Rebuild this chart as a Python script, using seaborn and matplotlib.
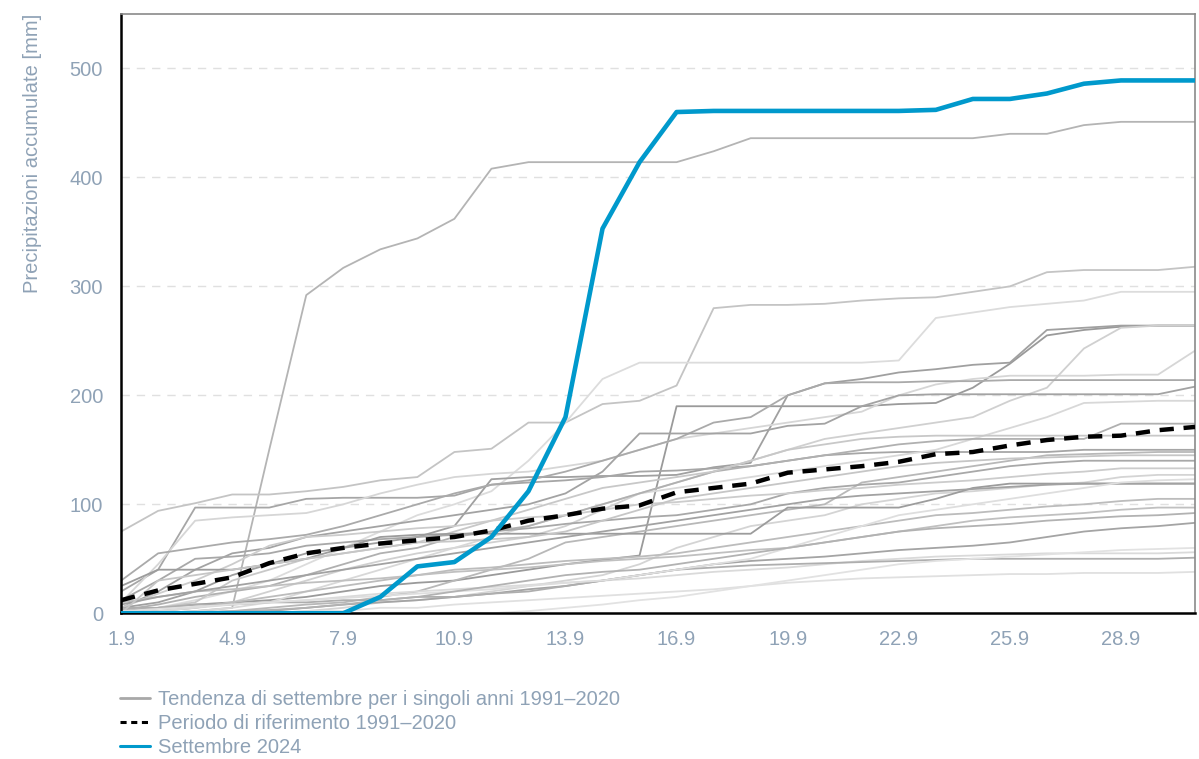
import numpy as np
import pandas as pd
import matplotlib
matplotlib.use("Agg")
import matplotlib.pyplot as plt
from matplotlib.lines import Line2D
import seaborn as sns

# giorni di settembre
giorni = list(range(1, 31))

# Settembre 2024 (mm cumulati)
sett_2024 = [0, 0, 0, 0, 0, 0, 0, 15, 43, 47, 70, 112, 180, 353, 414,
             460, 461, 461, 461, 461, 461, 461, 462, 472, 472, 477, 486, 489, 489, 489]

# norma 1991-2020
norma = [12, 21, 27, 33, 46, 55, 60, 64, 67, 70, 76, 85, 90, 96, 99,
         111, 115, 119, 129, 132, 135, 139, 146, 148, 154, 159, 162, 163, 168, 171]

# singoli anni 1991-2020 (lette a occhio dal grafico)
g01 = [0, 0, 2, 5, 150, 292, 317, 334, 344, 362, 408, 414, 414, 414, 414, 414, 424, 436, 436, 436, 436, 436, 436, 436, 440, 440, 448, 451, 451, 451]
g02 = [75, 94, 101, 109, 109, 112, 116, 122, 125, 148, 151, 175, 175, 192, 195, 209, 280, 283, 283, 284, 287, 289, 290, 295, 300, 313, 315, 315, 315, 318]
g03 = [2, 5, 12, 20, 30, 45, 60, 75, 90, 100, 112, 140, 175, 215, 230, 230, 230, 230, 230, 230, 230, 232, 271, 276, 281, 284, 287, 295, 295, 295]
g04 = [2, 5, 8, 10, 12, 15, 20, 25, 28, 30, 35, 40, 45, 49, 53, 190, 190, 190, 190, 190, 190, 192, 193, 207, 229, 255, 260, 263, 264, 264]
g05 = [5, 10, 20, 35, 45, 55, 60, 65, 70, 80, 123, 125, 125, 126, 126, 127, 134, 138, 200, 211, 215, 221, 224, 228, 230, 260, 262, 264, 264, 264]
g06 = [20, 40, 97, 97, 97, 105, 106, 106, 106, 108, 118, 120, 122, 125, 130, 131, 133, 135, 140, 145, 147, 148, 148, 148, 148, 148, 150, 150, 150, 150]
g07 = [10, 45, 85, 88, 90, 92, 100, 110, 118, 125, 128, 130, 135, 140, 150, 160, 165, 170, 175, 180, 185, 200, 210, 215, 218, 218, 218, 219, 219, 241]
g08 = [1, 2, 5, 10, 20, 30, 40, 48, 55, 60, 65, 70, 80, 95, 110, 120, 130, 140, 150, 160, 165, 170, 175, 180, 195, 207, 243, 262, 264, 264]
g09 = [30, 55, 60, 65, 68, 72, 80, 90, 100, 110, 118, 122, 130, 140, 150, 160, 175, 180, 200, 211, 212, 212, 213, 213, 214, 214, 214, 214, 214, 214]
g10 = [5, 20, 40, 55, 60, 70, 75, 80, 85, 90, 95, 100, 110, 130, 165, 165, 165, 165, 172, 174, 190, 200, 201, 201, 201, 201, 201, 201, 201, 208]
g11 = [0, 0, 2, 5, 10, 20, 30, 40, 50, 60, 70, 80, 90, 100, 110, 115, 120, 125, 130, 135, 140, 145, 150, 160, 170, 180, 193, 194, 195, 195]
g12 = [3, 8, 15, 20, 25, 35, 45, 55, 60, 70, 75, 80, 90, 100, 110, 120, 130, 135, 140, 145, 150, 155, 158, 160, 160, 160, 160, 174, 174, 174]
g13 = [0, 5, 10, 30, 40, 50, 55, 60, 65, 75, 85, 95, 105, 115, 120, 125, 130, 140, 150, 155, 160, 162, 163, 163, 163, 163, 163, 163, 163, 163]
g14 = [0, 0, 0, 2, 5, 8, 10, 15, 20, 30, 40, 50, 65, 70, 75, 80, 85, 90, 95, 100, 120, 125, 130, 135, 140, 145, 146, 147, 148, 148]
g15 = [12, 30, 50, 52, 55, 62, 65, 68, 70, 72, 75, 78, 82, 85, 88, 90, 95, 100, 110, 115, 118, 120, 125, 130, 135, 138, 140, 140, 140, 140]
g16 = [5, 18, 30, 45, 62, 70, 72, 75, 78, 80, 85, 88, 90, 95, 100, 102, 105, 108, 110, 113, 115, 118, 120, 122, 125, 128, 130, 133, 133, 133]
g17 = [0, 0, 0, 0, 0, 2, 5, 10, 12, 15, 20, 25, 30, 35, 45, 60, 70, 80, 85, 90, 100, 105, 110, 112, 115, 118, 120, 125, 127, 127]
g18 = [25, 40, 40, 40, 45, 50, 60, 70, 72, 73, 73, 73, 73, 73, 73, 73, 73, 73, 97, 97, 97, 97, 105, 115, 119, 119, 119, 119, 119, 119]
g19 = [0, 2, 5, 10, 15, 20, 25, 30, 35, 40, 42, 45, 48, 50, 52, 55, 60, 65, 70, 75, 80, 85, 90, 92, 95, 98, 100, 103, 105, 105]
g20 = [10, 15, 20, 22, 25, 28, 30, 32, 35, 38, 40, 42, 45, 48, 50, 52, 55, 58, 60, 65, 70, 75, 80, 85, 88, 90, 92, 95, 97, 97]
g21 = [0, 0, 0, 0, 2, 5, 8, 10, 12, 15, 18, 22, 25, 30, 35, 40, 45, 48, 50, 52, 55, 58, 60, 62, 65, 70, 75, 78, 80, 83]
g22 = [0, 2, 5, 8, 10, 12, 15, 18, 20, 22, 24, 26, 28, 30, 32, 35, 38, 40, 42, 45, 48, 50, 52, 53, 54, 55, 55, 55, 55, 56]
g23 = [5, 5, 8, 8, 10, 10, 12, 12, 15, 15, 18, 20, 25, 30, 35, 40, 42, 44, 45, 46, 47, 48, 49, 50, 50, 50, 50, 50, 50, 51]
g24 = [0, 0, 0, 0, 0, 2, 2, 5, 5, 8, 10, 12, 14, 16, 18, 20, 22, 25, 28, 30, 32, 33, 34, 35, 36, 36, 37, 37, 37, 38]
g25 = [8, 15, 20, 25, 30, 35, 40, 45, 50, 55, 60, 65, 70, 75, 80, 85, 90, 95, 100, 105, 108, 110, 112, 114, 116, 118, 119, 119, 119, 119]
g26 = [0, 30, 35, 40, 45, 50, 55, 60, 65, 66, 68, 70, 75, 85, 95, 105, 110, 115, 120, 125, 130, 135, 138, 140, 142, 143, 144, 145, 145, 145]
g27 = [2, 4, 6, 8, 10, 12, 14, 16, 18, 20, 22, 25, 28, 30, 35, 40, 45, 50, 60, 70, 80, 90, 95, 100, 105, 110, 115, 120, 122, 123]
g28 = [0, 0, 0, 0, 0, 0, 0, 0, 0, 0, 0, 2, 5, 8, 12, 15, 20, 25, 30, 35, 40, 45, 48, 50, 52, 54, 56, 58, 59, 60]
g29 = [0, 0, 1, 2, 3, 5, 8, 12, 15, 20, 25, 30, 35, 38, 40, 45, 50, 55, 60, 65, 70, 75, 78, 80, 82, 85, 87, 89, 90, 92]

anni = [g01, g02, g03, g04, g05, g06, g07, g08, g09, g10, g11, g12, g13, g14, g15,
        g16, g17, g18, g19, g20, g21, g22, g23, g24, g25, g26, g27, g28, g29]
# tonalita' di grigio per ogni anno
grigi = ['#b4b4b4', '#c4c4c4', '#dcdcdc', '#9a9a9a', '#a0a0a0', '#a6a6a6', '#d6d6d6', '#d0d0d0',
         '#aaaaaa', '#a3a3a3', '#d8d8d8', '#b0b0b0', '#c8c8c8', '#b8b8b8', '#a8a8a8', '#cccccc',
         '#d4d4d4', '#9c9c9c', '#bcbcbc', '#c0c0c0', '#a4a4a4', '#dadada', '#aeaeae', '#e0e0e0',
         '#a2a2a2', '#c6c6c6', '#dedede', '#e2e2e2', '#b2b2b2']

df = pd.DataFrame({
    'giorno': giorni * len(anni),
    'mm': np.concatenate(anni),
    'anno': np.repeat([f'a{i}' for i in range(len(anni))], len(giorni)),
})

col_testo = '#8fa2b6'
sns.set_style('white')
plt.rcParams['font.family'] = ['Liberation Sans', 'DejaVu Sans']

fig = plt.figure(figsize=(11.99, 7.59), dpi=100)
ax = fig.add_axes([0.101, 0.192, 0.8957, 0.7896])

for y in range(100, 501, 100):
    ax.axhline(y, color='#e0e0e0', lw=1.0, ls=(0, (6, 5)), zorder=0)

sns.lineplot(data=df, x='giorno', y='mm', hue='anno', units='anno', estimator=None,
             palette=grigi, legend=False, lw=1.3, ax=ax)
sns.lineplot(x=giorni, y=norma, color='black', lw=3.2, ls=(0, (3.2, 2.2)), ax=ax, zorder=5)
sns.lineplot(x=giorni, y=sett_2024, color='#0099cc', lw=3.3, ax=ax, zorder=6)

ax.set_xlim(1, 30)
ax.set_ylim(0, 550)
ax.set_yticks(range(0, 501, 100))
tick_giorni = list(range(1, 30, 3))
ax.set_xticks(tick_giorni)
ax.set_xticklabels([f'{d}.9' for d in tick_giorni])
ax.set_xlabel('')
ax.set_ylabel('Precipitazioni accumulate [mm]', color=col_testo, fontsize=14.5,
              labelpad=20, loc='top')

for s in ['left', 'bottom']:
    ax.spines[s].set_color('black')
    ax.spines[s].set_linewidth(1.8)
for s in ['top', 'right']:
    ax.spines[s].set_color('#8a8a8a')
    ax.spines[s].set_linewidth(1.2)

ax.tick_params(axis='both', colors='black', labelcolor=col_testo, labelsize=14.5,
               length=5, width=1.6, direction='out')
ax.tick_params(axis='x', pad=7)
ax.tick_params(axis='y', pad=8)

maniglie = [
    Line2D([], [], color='#a8a8a8', lw=2),
    Line2D([], [], color='black', lw=2.2, ls=(0, (2, 1.5))),
    Line2D([], [], color='#0099cc', lw=2.2),
]
etichette = ['Tendenza di settembre per i singoli anni 1991\u20132020',
             'Periodo di riferimento 1991\u20132020',
             'Settembre 2024']
leg = fig.legend(maniglie, etichette, loc='upper left', bbox_to_anchor=(0.093, 0.102),
                 frameon=False, fontsize=14.5, handlelength=1.5, handletextpad=0.4,
                 labelspacing=0.25, borderaxespad=0)
for t in leg.get_texts():
    t.set_color(col_testo)

fig.savefig('out.png', dpi=100)
